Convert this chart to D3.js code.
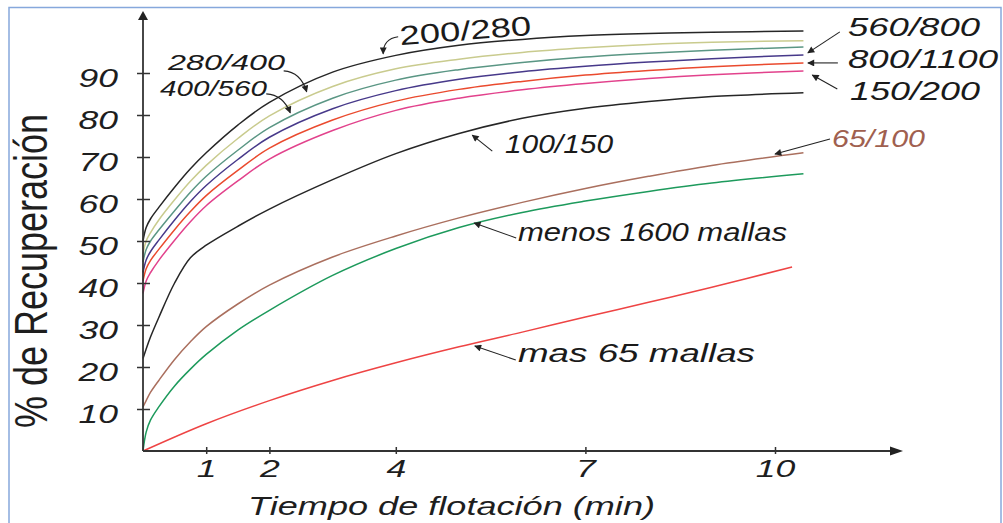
<!DOCTYPE html>
<html>
<head>
<meta charset="utf-8">
<script src="https://cdn.jsdelivr.net/npm/d3@7"></script>
<style>
  body { margin: 0; background: #fff; }
  svg { display: block; }
  text { font-family: "Liberation Sans", Arial, sans-serif; }
</style>
</head>
<body>
<div id="chart"></div>
<script>
// tiempo de flotacion (min)
const tiempo = [0, 0.05, 0.12, 0.25, 0.5, 0.75, 1, 1.5, 2, 3, 4, 5, 6, 7, 8, 9, 10.45];
const tiempoMas65 = [0, 1, 2, 3, 4, 5, 6, 7, 8, 9, 10.27];

// % de recuperacion por fraccion de tamaño
const rec200_280 = [50, 53.2, 55.3, 58, 62.8, 67.2, 71, 77.6, 83, 90.2, 94.2, 96.6, 98, 98.9, 99.4, 99.7, 100];
const rec280_400 = [47, 50, 52, 55, 59.8, 64.2, 68, 74.4, 79.8, 86.8, 91, 93.3, 94.9, 96, 96.8, 97.3, 97.7];
const rec400_560 = [45, 48, 50, 52.6, 57.2, 61.6, 65.4, 71.6, 77, 84, 88.3, 90.8, 92.5, 93.8, 94.7, 95.4, 96.2];
const rec560_800 = [42.5, 45.5, 47.5, 50.2, 55, 59.4, 63.2, 69.4, 74.7, 81.5, 85.8, 88.5, 90.3, 91.6, 92.6, 93.4, 94.3];
const rec800_1100 = [40.5, 43.4, 45.4, 48, 52.7, 57, 60.8, 66.8, 72.1, 78.8, 83.3, 86.1, 88, 89.5, 90.6, 91.5, 92.4];
const rec150_200 = [37.5, 40.5, 42.5, 45.4, 50.2, 54.6, 58.4, 64.3, 69.5, 76.3, 81.1, 84, 86, 87.5, 88.7, 89.6, 90.5];
const rec100_150 = [22, 24.3, 27.2, 31.8, 40, 46, 49, 53.5, 57.6, 64.6, 70.8, 75.6, 79.2, 81.6, 83.2, 84.4, 85.3];
const rec65_100 = [10.5, 12, 14, 16.8, 21.8, 26, 29.6, 35, 39.5, 46.2, 51.2, 55.5, 59.2, 62.5, 65.4, 68, 71];
const recMenos1600 = [0, 4.5, 7.4, 10.5, 15.5, 19.5, 23, 28.8, 33.5, 41.8, 48.2, 53.2, 56.8, 59.5, 61.8, 63.8, 66];
const recMas65 = [0, 6.5, 12, 16.8, 21, 24.8, 28.3, 31.9, 35.4, 39, 43.8];

const ticksY = [10, 20, 30, 40, 50, 60, 70, 80, 90];
const ticksX = [1, 2, 4, 7, 10];

const series = [
    { t: tiempo, v: rec200_280, color: "#262626" },
    { t: tiempo, v: rec280_400, color: "#c9cb8e" },
    { t: tiempo, v: rec400_560, color: "#5a9684" },
    { t: tiempo, v: rec560_800, color: "#47398a" },
    { t: tiempo, v: rec800_1100, color: "#ea4a2e" },
    { t: tiempo, v: rec150_200, color: "#e2428c" },
    { t: tiempo, v: rec100_150, color: "#262626" },
    { t: tiempo, v: rec65_100, color: "#aa6f5e" },
    { t: tiempo, v: recMenos1600, color: "#1d9a5c" },
    { t: tiempoMas65, v: recMas65, color: "#ee4444" }
];

// etiquetas: punta de flecha en unidades del grafico, cola y texto en pixeles
const etiquetas = [
    { text: "200/280", tip: [3.8, 94.6], tail: [15, -17], bend: [0, -15], x: 400, y: 40, w: 132, fs: 27, italic: false, rot: -4.5 },
    { text: "280/400", tip: [2.59, 85.5], tail: [-23, -21], bend: [-6, -20], x: 168, y: 70, w: 117, fs: 22.5, italic: true },
    { text: "400/560", tip: [2.33, 80.5], tail: [-24, -19], bend: [-7, -18], x: 160, y: 95.5, w: 107, fs: 22.5, italic: true },
    { text: "560/800", tip: [10.52, 94.8], tail: [32, -21], x: 848, y: 36, w: 132, fs: 26.5, italic: true },
    { text: "800/1100", tip: [10.52, 92.4], tail: [30, 0], x: 848, y: 68, w: 150, fs: 26.5, italic: true },
    { text: "150/200", tip: [10.59, 89.5], tail: [25, 14], x: 850, y: 100, w: 130, fs: 26.5, italic: true },
    { text: "100/150", tip: [5.21, 75.2], tail: [20, 16], x: 505, y: 153, w: 108, fs: 25, italic: true },
    { text: "65/100", tip: [10.0, 70.7], tail: [55, -15], x: 832, y: 147, w: 93, fs: 24.5, italic: true, color: "#a0604f" },
    { text: "menos 1600 mallas", tip: [5.24, 54.3], tail: [42, 15], x: 518, y: 241, w: 269, fs: 25, italic: true },
    { text: "mas 65 mallas", tip: [5.25, 25], tail: [41, 14], x: 518, y: 362, w: 237, fs: 25, italic: true }
];

const width = 1003, height = 523;

const svg = d3.select("#chart")
    .append("svg")
    .attr("width", width)
    .attr("height", height);

svg.append("rect")
    .attr("width", width).attr("height", height)
    .attr("fill", "#fff");

svg.append("rect")
    .attr("x", 9).attr("y", 7.5)
    .attr("width", 992).attr("height", 540)
    .attr("fill", "none")
    .attr("stroke", "#86a8dc")
    .attr("stroke-width", 1.5);

const x = d3.scaleLinear().domain([0, 10]).range([143, 775]);
const y = d3.scaleLinear().domain([0, 90]).range([451, 73]);

function stretch(sel, k) {
    sel.each(function () {
        const w = this.getComputedTextLength();
        d3.select(this).attr("textLength", w * k).attr("lengthAdjust", "spacingAndGlyphs");
    });
}

svg.append("defs").append("marker")
    .attr("id", "head")
    .attr("markerUnits", "userSpaceOnUse")
    .attr("viewBox", "0 0 10 10")
    .attr("refX", 9).attr("refY", 5)
    .attr("markerWidth", 8).attr("markerHeight", 7)
    .attr("orient", "auto")
    .append("path")
    .attr("d", "M0,0 L10,5 L0,10 Z")
    .attr("fill", "#222");

// curvas
const line = d3.line()
    .x(d => x(d[0]))
    .y(d => y(d[1]))
    .curve(d3.curveCatmullRom.alpha(0.5));

svg.append("g")
    .selectAll("path")
    .data(series)
    .join("path")
    .attr("d", s => line(s.t.map((t, i) => [t, s.v[i]])))
    .attr("fill", "none")
    .attr("stroke", s => s.color)
    .attr("stroke-width", 1.5);

// ejes
const axisColor = "#333";
const x0 = x(0), y0 = y(0);

svg.append("line")
    .attr("x1", x0).attr("x2", x0)
    .attr("y1", y0).attr("y2", 18)
    .attr("stroke", axisColor).attr("stroke-width", 1.8);
svg.append("path")
    .attr("d", `M${x0},11 L${x0 + 5},20 L${x0 - 5},20 Z`)
    .attr("fill", "#222");

svg.append("line")
    .attr("x1", x0).attr("x2", 892)
    .attr("y1", y0).attr("y2", y0)
    .attr("stroke", axisColor).attr("stroke-width", 1.8);
svg.append("path")
    .attr("d", `M903,${y0} L890,${y0 - 4.5} L890,${y0 + 4.5} Z`)
    .attr("fill", "#222");

const gy = svg.append("g")
    .attr("transform", `translate(${x0},0)`)
    .call(d3.axisLeft(y).tickValues(ticksY).tickSize(6));
gy.select(".domain").remove();
gy.selectAll(".tick line").attr("x1", -6).attr("x2", 7).attr("stroke", axisColor).attr("stroke-width", 1.5);
gy.selectAll(".tick text")
    .attr("x", -25)
    .attr("dy", "0.55em")
    .attr("font-size", 25)
    .attr("fill", "#1e1e1e")
    .style("font-style", "italic")
    .call(stretch, 1.42);

const gx = svg.append("g")
    .attr("transform", `translate(0,${y0})`)
    .call(d3.axisBottom(x).tickValues(ticksX).tickSize(4));
gx.select(".domain").remove();
gx.selectAll(".tick line").attr("y1", -4).attr("y2", 3).attr("stroke", axisColor).attr("stroke-width", 1.5);
gx.selectAll(".tick text")
    .attr("y", 26)
    .attr("dy", 0)
    .attr("font-size", 23)
    .attr("fill", "#1e1e1e")
    .style("font-style", "italic")
    .call(stretch, 1.55);

// titulos
svg.append("text")
    .attr("x", 248).attr("y", 515)
    .attr("font-size", 25)
    .attr("fill", "#1e1e1e")
    .style("font-style", "italic")
    .attr("textLength", 407)
    .attr("lengthAdjust", "spacingAndGlyphs")
    .text("Tiempo de flotación (min)");

svg.append("text")
    .attr("transform", "translate(47,271) scale(1.3,1) rotate(-90)")
    .attr("text-anchor", "middle")
    .attr("font-size", 36)
    .attr("fill", "#1e1e1e")
    .text("% de Recuperación");

// anotaciones
const ann = svg.append("g");
etiquetas.forEach(e => {
    const tx = x(e.tip[0]), ty = y(e.tip[1]);
    const sx = tx + e.tail[0], sy = ty + e.tail[1];
    const d = e.bend
        ? `M${sx},${sy} Q${tx + e.bend[0]},${ty + e.bend[1]} ${tx},${ty}`
        : `M${sx},${sy} L${tx},${ty}`;
    ann.append("path")
        .attr("d", d)
        .attr("fill", "none")
        .attr("stroke", "#222")
        .attr("stroke-width", 1.1)
        .attr("marker-end", "url(#head)");

    const t = ann.append("text")
        .attr("x", e.x).attr("y", e.y)
        .attr("font-size", e.fs)
        .attr("fill", e.color || "#1a1a1a")
        .style("font-style", e.italic ? "italic" : "normal")
        .attr("textLength", e.w)
        .attr("lengthAdjust", "spacingAndGlyphs")
        .text(e.text);
    if (e.rot) t.attr("transform", `rotate(${e.rot},${e.x + e.w / 2},${e.y})`);
});
</script>
</body>
</html>
